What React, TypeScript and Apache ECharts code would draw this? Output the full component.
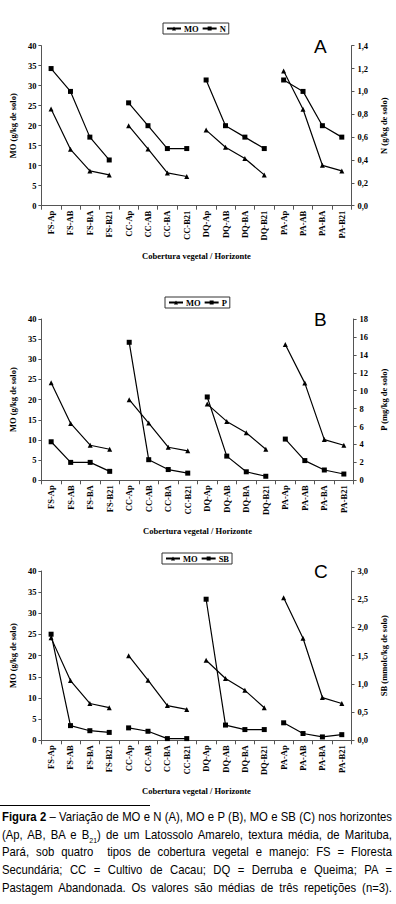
import React, { useEffect, useMemo, useRef } from "react";
import * as echarts from "echarts";

const categories = [
  "FS-Ap", "FS-AB", "FS-BA", "FS-B21",
  "CC-Ap", "CC-AB", "CC-BA", "CC-B21",
  "DQ-Ap", "DQ-AB", "DQ-BA", "DQ-B21",
  "PA-Ap", "PA-AB", "PA-BA", "PA-B21",
];

const moValues = [24.2, 14.1, 8.7, 7.7, 20.0, 14.2, 8.2, 7.3, 18.9, 14.6, 11.8, 7.7, 33.7, 24.1, 10.1, 8.7];
const nValues = [1.2, 1.0, 0.6, 0.4, 0.9, 0.7, 0.5, 0.5, 1.1, 0.7, 0.6, 0.5, 1.1, 1.0, 0.7, 0.6];
const pValues = [4.3, 2.0, 2.0, 1.0, 15.4, 2.3, 1.2, 0.8, 9.3, 2.7, 0.95, 0.45, 4.6, 2.2, 1.15, 0.7];
const sbValues = [1.88, 0.26, 0.17, 0.14, 0.22, 0.16, 0.03, 0.03, 2.5, 0.27, 0.19, 0.19, 0.31, 0.12, 0.06, 0.1];

const groups = [0, 1, 2, 3];
const panelLetters = ["A", "B", "C"];
const xTitle = "Cobertura vegetal / Horizonte";
const leftTitle = "MO (g/kg de solo)";
const rightTitles = ["N (g/kg de solo)", "P (mg/kg de solo)", "SB (mmolc/kg de solo)"];
const rightNames = ["N", "P", "SB"];
const rightValues = [nValues, pValues, sbValues];
const rightMax = [1.4, 18, 3.0];
const rightInterval = [0.2, 2, 0.5];
const rightDecimals = [1, 0, 1];

const captionBold = "Figura 2";
const captionLine1 = " – Variação de MO e N (A), MO e P (B), MO e SB (C) nos horizontes";
const captionLine2a = "(Ap, AB, BA e B";
const captionLine2sub = "21";
const captionLine2b = ") de um Latossolo Amarelo, textura média, de Marituba,";
const captionRest = [
  "Pará, sob quatro\u00a0 tipos de cobertura vegetal e manejo: FS = Floresta",
  "Secundária; CC = Cultivo de Cacau; DQ = Derruba e Queima; PA =",
  "Pastagem Abandonada. Os valores são médias de três repetições (n=3).",
];

const SERIF = "'Liberation Serif', 'Times New Roman', serif";
const SANS = "'Liberation Sans', Arial, sans-serif";
const FS = 8.5;

const grids = [
  { left: 33, top: 45.7, width: 322.7, height: 160 },
  { left: 33, top: 319, width: 322.7, height: 161.3 },
  { left: 26.7, top: 571, width: 333.3, height: 169.3 },
];
const legendPos = [
  { left: 163, top: 23 },
  { left: 165, top: 297 },
  { left: 162, top: 553 },
];
const letterPos = [
  { x: 314, y: 37 },
  { x: 314, y: 310 },
  { x: 314, y: 562 },
];
const rightNameGap = [22, 22, 26];

function groupData(values: number[], g: number) {
  return values.map((v, i) => (Math.floor(i / 4) === g ? v : null));
}

function measure(text: string, font: string) {
  const ctx = document.createElement("canvas").getContext("2d");
  if (!ctx) return text.length * 6.5;
  ctx.font = font;
  return ctx.measureText(text).width;
}

export default function App() {
  const ref = useRef<HTMLDivElement>(null);

  const captionWidth = useMemo(() => {
    const f = `13px ${SANS}`;
    const w0 = measure(captionBold, `bold ${f}`) + measure(captionLine1, f);
    const w1 = measure(captionLine2a, f) + measure(captionLine2sub, `8px ${SANS}`) + measure(captionLine2b, f);
    const ws = captionRest.map((t) => measure(t, f));
    return Math.ceil(Math.max(w0, w1, ...ws)) + 3;
  }, []);
  const scale = 390 / captionWidth;

  useEffect(() => {
    if (!ref.current) return;
    const chart = echarts.init(ref.current, undefined, { renderer: "svg" });
    const axisColor = "#555";
    const labelStyle = { fontFamily: SERIF, fontWeight: "bold" as const, fontSize: FS, color: "#000" };

    const xAxis: any[] = [];
    const yAxis: any[] = [];
    const series: any[] = [];
    const legend: any[] = [];
    const graphic: any[] = [];

    [0, 1, 2].forEach((k) => {
      xAxis.push({
        type: "category",
        gridIndex: k,
        data: categories,
        boundaryGap: true,
        axisLine: { lineStyle: { color: axisColor, width: 1 } },
        axisTick: { show: true, length: 4, interval: 0, lineStyle: { color: axisColor } },
        axisLabel: { ...labelStyle, rotate: 90, interval: 0, margin: 5 },
        name: xTitle,
        nameLocation: "middle",
        nameGap: 46,
        nameTextStyle: { ...labelStyle },
        splitLine: { show: false },
      });
      yAxis.push({
        type: "value",
        gridIndex: k,
        position: "left",
        min: 0,
        max: 40,
        interval: 5,
        axisLine: { show: true, lineStyle: { color: axisColor, width: 1 } },
        axisTick: { show: true, length: 3, lineStyle: { color: axisColor } },
        axisLabel: { ...labelStyle, margin: 5 },
        splitLine: { show: false },
        name: leftTitle,
        nameLocation: "middle",
        nameRotate: 90,
        nameGap: 22,
        nameTextStyle: { ...labelStyle },
      });
      const dec = rightDecimals[k];
      yAxis.push({
        type: "value",
        gridIndex: k,
        position: "right",
        min: 0,
        max: rightMax[k],
        interval: rightInterval[k],
        axisLine: { show: true, lineStyle: { color: axisColor, width: 1 } },
        axisTick: { show: true, length: 3, lineStyle: { color: axisColor } },
        axisLabel: {
          ...labelStyle,
          margin: 6,
          formatter: (v: number) => v.toFixed(dec).replace(".", ","),
        },
        splitLine: { show: false },
        name: rightTitles[k],
        nameLocation: "middle",
        nameRotate: 90,
        nameGap: rightNameGap[k],
        nameTextStyle: { ...labelStyle },
      });
      groups.forEach((g) => {
        series.push({
          type: "line",
          name: "MO",
          xAxisIndex: k,
          yAxisIndex: 2 * k,
          data: groupData(moValues, g),
          symbol: "triangle",
          symbolSize: 5,
          showSymbol: true,
          lineStyle: { color: "#000", width: 1.2 },
          itemStyle: { color: "#000" },
          connectNulls: false,
        });
        series.push({
          type: "line",
          name: rightNames[k],
          xAxisIndex: k,
          yAxisIndex: 2 * k + 1,
          data: groupData(rightValues[k], g),
          symbol: "rect",
          symbolSize: 5,
          showSymbol: true,
          lineStyle: { color: "#000", width: 1.2 },
          itemStyle: { color: "#000" },
          connectNulls: false,
        });
      });
      legend.push({
        data: ["MO", rightNames[k]],
        left: legendPos[k].left,
        top: legendPos[k].top,
        orient: "horizontal",
        borderColor: "#333",
        borderWidth: 1,
        padding: [1, 3, 1, 3],
        itemGap: 3,
        itemWidth: 14,
        itemHeight: 5,
        textStyle: { ...labelStyle, padding: [0, 0, 0, -2] },
        selectedMode: false,
      });
      graphic.push({
        type: "text",
        x: letterPos[k].x,
        y: letterPos[k].y,
        style: {
          text: panelLetters[k],
          font: `19px ${SANS}`,
          fill: "#000",
          textVerticalAlign: "top",
        },
      });
    });

    chart.setOption({
      animation: false,
      backgroundColor: "#fff",
      grid: grids,
      xAxis,
      yAxis,
      series,
      legend,
      graphic,
    });
    return () => chart.dispose();
  }, []);

  const lineStyle: React.CSSProperties = {
    height: 17.7,
    lineHeight: "17.7px",
    textAlign: "justify",
    textAlignLast: "justify",
  };

  return (
    <div style={{ position: "absolute", left: 0, top: 0, width: 396, height: 904, background: "#fff", overflow: "hidden" }}>
      <div ref={ref} style={{ position: "absolute", left: 0, top: 0, width: 396, height: 800 }} />
      <div style={{ position: "absolute", left: 0, top: 805, width: 150, height: 0, borderTop: "1px solid #000" }} />
      <div
        style={{
          position: "absolute",
          left: 2,
          top: 808,
          width: captionWidth,
          fontFamily: SANS,
          fontSize: 13,
          color: "#000",
          transform: `scaleX(${scale})`,
          transformOrigin: "0 0",
        }}
      >
        <div style={lineStyle}>
          <b>{captionBold}</b>
          {captionLine1}
        </div>
        <div style={lineStyle}>
          {captionLine2a}
          <sub style={{ fontSize: 8, lineHeight: 0 }}>{captionLine2sub}</sub>
          {captionLine2b}
        </div>
        {captionRest.map((t, i) => (
          <div key={i} style={lineStyle}>
            {t}
          </div>
        ))}
      </div>
    </div>
  );
}
